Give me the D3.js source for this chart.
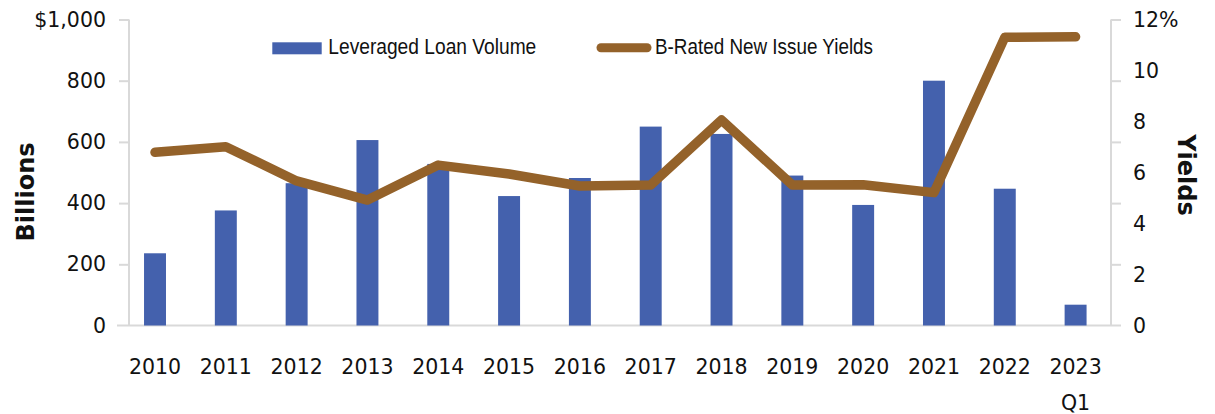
<!DOCTYPE html>
<html>
<head>
<meta charset="utf-8">
<script src="https://cdn.jsdelivr.net/npm/d3@7"></script>
<style>
  html, body { margin: 0; padding: 0; background: #ffffff; }
  svg { display: block; }
  text { font-family: "DejaVu Sans", sans-serif; fill: #111; }
</style>
</head>
<body>
<svg id="chart" width="1215" height="414"></svg>
<script>
// ---- data ----
const categories = ["2010","2011","2012","2013","2014","2015","2016","2017","2018","2019","2020","2021","2022","2023"];
const categorySubLabels = ["","","","","","","","","","","","","","Q1"];
const loanVolume = [236, 376, 465, 606, 528, 423, 482, 650, 626, 490, 394, 800, 447, 68];
const newIssueYields = [6.79, 7.01, 5.67, 4.92, 6.29, 5.94, 5.47, 5.51, 8.06, 5.51, 5.52, 5.21, 11.30, 11.32];
const leftTicks = [0, 200, 400, 600, 800, 1000];
const leftTickLabels = ["0", "200", "400", "600", "800", "$1,000"];
const rightTicks = [0, 2, 4, 6, 8, 10, 12];
const rightTickLabels = ["0", "2", "4", "6", "8", "10", "12%"];
const seriesNames = ["Leveraged Loan Volume", "B-Rated New Issue Yields"];
const leftTitle = "Billions";
const rightTitle = "Yields";

// ---- styles ----
const barColor = "#4461AD";
const lineColor = "#94622A";
const axisColor = "#d9d9d9";

const svg = d3.select("#chart");

const x = d3.scaleBand().domain(categories).range([119.6, 1111]).padding(0);
const y = d3.scaleLinear().domain([0, 1000]).range([325.5, 19.5]);
const y2 = d3.scaleLinear().domain([0, 12]).range([325.5, 19.5]);
const cx = d => x(d) + x.bandwidth() / 2;
const barW = x.bandwidth() * 0.31;

// left axis
const leftAxis = svg.append("g")
  .attr("transform", "translate(129,0)")
  .call(d3.axisLeft(y).tickValues(leftTicks).tickSize(10).tickPadding(13)
    .tickFormat((d, i) => leftTickLabels[i]));
leftAxis.select(".domain").remove();
leftAxis.selectAll(".tick line").attr("stroke", axisColor).attr("stroke-width", 2);
leftAxis.selectAll(".tick").filter(d => d === 0).select("line").remove();
leftAxis.selectAll("text").attr("font-size", 20.5).style("font-family", "DejaVu Sans").attr("fill", "#111");
svg.append("line").attr("x1", 129).attr("x2", 129).attr("y1", y(1000)).attr("y2", y(0))
  .attr("stroke", axisColor).attr("stroke-width", 2);

// right axis tick marks (at left-scale positions)
const rightMarks = svg.append("g")
  .attr("transform", "translate(1111,0)")
  .call(d3.axisRight(y).tickValues(leftTicks.filter(d => d > 0)).tickSize(10).tickFormat(""));
rightMarks.select(".domain").remove();
rightMarks.selectAll(".tick line").attr("stroke", axisColor).attr("stroke-width", 2);
svg.append("line").attr("x1", 1111).attr("x2", 1111).attr("y1", y(1000)).attr("y2", y(0))
  .attr("stroke", axisColor).attr("stroke-width", 2);

// right axis labels
const rightAxis = svg.append("g")
  .attr("transform", "translate(1111,0)")
  .call(d3.axisRight(y2).tickValues(rightTicks).tickSize(0).tickPadding(22)
    .tickFormat((d, i) => rightTickLabels[i]));
rightAxis.select(".domain").remove();
rightAxis.selectAll("text").attr("font-size", 20.5).style("font-family", "DejaVu Sans").attr("fill", "#111");

// baseline
svg.append("line").attr("x1", 117).attr("x2", 1121).attr("y1", y(0)).attr("y2", y(0))
  .attr("stroke", axisColor).attr("stroke-width", 2);

// bars
svg.append("g").selectAll("rect").data(categories).join("rect")
  .attr("x", (d) => cx(d) - barW / 2)
  .attr("width", barW)
  .attr("y", (d, i) => y(loanVolume[i]))
  .attr("height", (d, i) => y(0) - y(loanVolume[i]))
  .attr("fill", barColor);

// line
const lineGen = d3.line().x(d => cx(d.c)).y(d => y2(d.v));
svg.append("path")
  .datum(categories.map((c, i) => ({ c, v: newIssueYields[i] })))
  .attr("d", lineGen)
  .attr("fill", "none")
  .attr("stroke", lineColor)
  .attr("stroke-width", 9.5)
  .attr("stroke-linejoin", "round")
  .attr("stroke-linecap", "round");

// x labels
const xl = svg.append("g");
categories.forEach((c, i) => {
  xl.append("text")
    .attr("x", cx(c)).attr("y", 373.5)
    .attr("text-anchor", "middle")
    .attr("font-size", 20.5)
    .text(c);
  if (categorySubLabels[i]) {
    xl.append("text")
      .attr("x", cx(c)).attr("y", 410)
      .attr("text-anchor", "middle")
      .attr("font-size", 20.5)
      .text(categorySubLabels[i]);
  }
});

// axis titles
svg.append("text")
  .attr("transform", "translate(34,192) rotate(-90)")
  .attr("text-anchor", "middle")
  .attr("font-size", 24)
  .attr("font-weight", "bold")
  .text(leftTitle);
svg.append("text")
  .attr("transform", "translate(1178,175) rotate(90)")
  .attr("text-anchor", "middle")
  .attr("font-size", 24)
  .attr("font-weight", "bold")
  .text(rightTitle);

// legend
const lg = svg.append("g");
lg.append("rect").attr("x", 272.3).attr("y", 42.3).attr("width", 49.4).attr("height", 12).attr("fill", barColor);
lg.append("text").attr("x", 328.3).attr("y", 54)
  .attr("font-size", 22.5)
  .style("font-family", "'Liberation Sans Narrow', 'Arial Narrow', sans-serif")
  .attr("textLength", 208).attr("lengthAdjust", "spacingAndGlyphs")
  .text(seriesNames[0]);
lg.append("line").attr("x1", 601).attr("x2", 647).attr("y1", 47.7).attr("y2", 47.7)
  .attr("stroke", lineColor).attr("stroke-width", 9).attr("stroke-linecap", "round");
lg.append("text").attr("x", 655).attr("y", 54)
  .attr("font-size", 22.5)
  .style("font-family", "'Liberation Sans Narrow', 'Arial Narrow', sans-serif")
  .attr("textLength", 218).attr("lengthAdjust", "spacingAndGlyphs")
  .text(seriesNames[1]);
</script>
</body>
</html>
